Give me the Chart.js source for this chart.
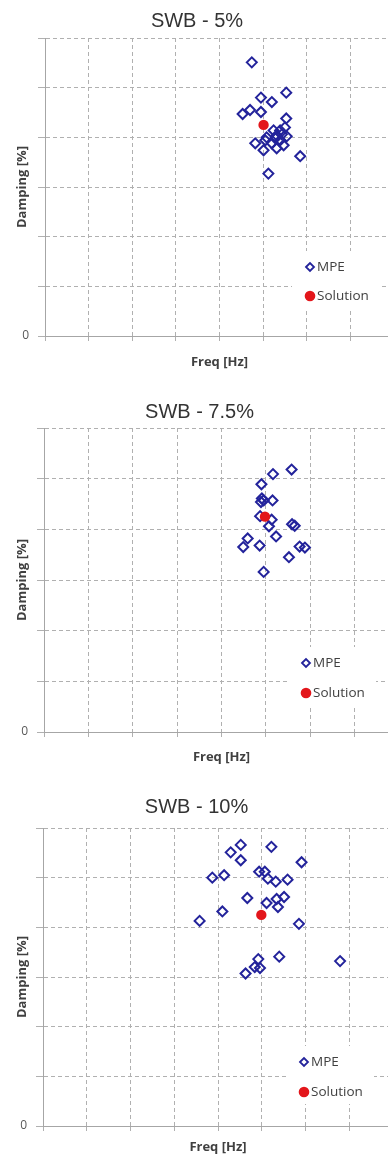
<!DOCTYPE html>
<html><head><meta charset="utf-8">
<script src="https://cdn.jsdelivr.net/npm/chart.js@4.4.1/dist/chart.umd.min.js"></script>
<style>
html,body{margin:0;padding:0;background:#fff;width:388px;height:1156px;overflow:hidden;}
.wrap{position:absolute;left:0;}
canvas{display:block;}
</style></head><body>
<div class="wrap" style="top:0px"><canvas id="c1" width="440" height="375" style="width:440px;height:375px"></canvas></div>
<div class="wrap" style="top:390px"><canvas id="c2" width="434" height="380" style="width:434px;height:380px"></canvas></div>
<div class="wrap" style="top:786px"><canvas id="c3" width="445" height="370" style="width:445px;height:370px"></canvas></div>
<script>
// ---- data ----
const chartTitles = ['SWB - 5%', 'SWB - 7.5%', 'SWB - 10%'];
const seriesNames = ['MPE', 'Solution'];
const xTitle = 'Freq [Hz]';
const yTitle = 'Damping [%]';
const yTickLabels = ['0'];

const freq5 = [4.74,5.53,4.95,5.20,4.95,4.70,4.53,5.53,5.50,5.24,5.39,5.08,5.31,5.54,5.20,5.39,5.47,5.31,5.05,4.82,5.01,5.85,5.12,5.28,5.43];
const damp5 = [5.51,4.90,4.80,4.71,4.51,4.55,4.47,4.38,4.20,4.14,4.14,4.00,4.04,4.02,3.88,3.94,3.84,3.78,3.94,3.88,3.74,3.62,3.27,3.98,4.06];
const solFreq5 = [5.01];
const solDamp5 = [4.25];

const freq75 = [5.58,5.16,4.90,4.91,4.95,4.89,5.15,4.87,5.13,5.07,5.59,5.65,5.23,4.59,4.49,4.86,5.76,5.88,5.52,4.95];
const damp75 = [5.18,5.09,4.89,4.61,4.57,4.54,4.57,4.26,4.19,4.06,4.10,4.07,3.86,3.82,3.65,3.68,3.66,3.64,3.45,3.16];
const solFreq75 = [4.98];
const solDamp75 = [4.25];

const freq10 = [4.52,4.29,5.22,4.52,5.91,3.87,4.14,4.94,5.07,5.14,5.32,5.59,4.67,5.11,5.34,5.51,5.37,4.10,3.58,5.85,4.92,4.84,4.96,4.63,5.40,6.79];
const damp10 = [5.66,5.51,5.62,5.35,5.31,5.00,5.05,5.12,5.12,4.98,4.92,4.96,4.59,4.49,4.57,4.61,4.41,4.32,4.13,4.07,3.36,3.20,3.18,3.07,3.41,3.32];
const solFreq10 = [4.99];
const solDamp10 = [4.25];

// ---- styling / layout ----
const GRID = '#b0b0b0';
const AXIS = '#a6a6a6';
const MPE_COLOR = '#23239b';
const SOL_COLOR = '#e3161b';

const insideLegend = {
  id: 'insideLegend',
  afterDatasetsDraw(chart, args, opts) {
    const {ctx, chartArea: a} = chart;
    const mx = a.left + opts.dx;
    const rows = [a.bottom - opts.dy1, a.bottom - opts.dy2];
    ctx.save();
    ctx.fillStyle = '#fff';
    ctx.fillRect(mx - 18, rows[0] - 16, 88, rows[1] - rows[0] + 28);
    chart.data.datasets.forEach((ds, i) => {
      const y = rows[i];
      ctx.beginPath();
      if (ds.pointStyle === 'rectRot') {
        const r = 4;
        ctx.moveTo(mx - r, y); ctx.lineTo(mx, y - r); ctx.lineTo(mx + r, y); ctx.lineTo(mx, y + r); ctx.closePath();
        ctx.lineWidth = 1.8; ctx.strokeStyle = ds.pointBorderColor; ctx.stroke();
      } else {
        ctx.arc(mx, y, 5.3, 0, Math.PI * 2);
        ctx.fillStyle = ds.pointBackgroundColor; ctx.fill();
      }
      ctx.fillStyle = '#404040';
      ctx.font = '13.5px "Open Sans"';
      ctx.textBaseline = 'middle';
      ctx.textAlign = 'left';
      ctx.fillText(ds.label, mx + 7, y + 0.5);
    });
    ctx.restore();
  }
};

function makeChart(id, title, fx, dy, sx, sy, L) {
  const mpe = fx.map((x, i) => ({x, y: dy[i]}));
  const sol = sx.map((x, i) => ({x, y: sy[i]}));
  return new Chart(document.getElementById(id), {
    type: 'scatter',
    data: {
      datasets: [
        {label: seriesNames[0], data: mpe, pointStyle: 'rectRot', pointRadius: 5,
         pointBorderWidth: 2, pointBorderColor: MPE_COLOR, pointBackgroundColor: 'rgba(255,255,255,0)',
         borderColor: MPE_COLOR, backgroundColor: 'rgba(255,255,255,0)', order: 1},
        {label: seriesNames[1], data: sol, pointStyle: 'circle', pointRadius: 5.2,
         pointBorderWidth: 0, pointBorderColor: SOL_COLOR, pointBackgroundColor: SOL_COLOR,
         borderColor: SOL_COLOR, backgroundColor: SOL_COLOR, order: 0}
      ]
    },
    options: {
      responsive: false,
      animation: false,
      events: [],
      layout: {padding: {left: 0, right: L.padR, top: 0, bottom: 0}},
      plugins: {
        legend: {display: false},
        tooltip: {enabled: false},
        title: {display: true, text: title, color: '#333',
                font: {family: '"Liberation Sans"', size: 20, weight: 'normal', lineHeight: 1.2},
                padding: {top: L.tTop, bottom: L.tBot}},
        insideLegend: {dx: L.legDx, dy1: L.legDy1, dy2: L.legDy2}
      },
      scales: {
        x: {
          type: 'linear', min: 0, max: 8,
          ticks: {stepSize: 1, display: false},
          grid: {color: GRID, lineWidth: 1, tickLength: 5, tickColor: GRID},
          border: {display: true, color: AXIS, width: 1, dash: [4, 3]},
          title: {display: true, text: xTitle, color: '#404040',
                  font: {family: '"Open Sans"', size: 13, weight: 'bold', lineHeight: 1.2},
                  padding: {top: 0, bottom: L.xtPad}},
          afterFit: s => { s.height = L.xH; }
        },
        y: {
          type: 'linear', min: 0, max: 6,
          ticks: {stepSize: 1, padding: 9, color: '#595959',
                  font: {family: '"Open Sans"', size: 12},
                  callback: v => (v === 0 ? yTickLabels[0] : '')},
          grid: {color: GRID, lineWidth: 1, tickLength: 7, tickColor: GRID},
          border: {display: true, color: AXIS, width: 1, dash: [4, 3]},
          title: {display: true, text: yTitle, color: '#404040',
                  font: {family: '"Open Sans"', size: 13, weight: 'bold', lineHeight: 1.2},
                  padding: {top: 14, bottom: 0}},
          afterFit: s => { s.width = L.yW; }
        }
      }
    },
    plugins: [insideLegend]
  });
}

makeChart('c1', chartTitles[0], freq5, damp5, solFreq5, solDamp5,
  {padR: 46, tTop: 9, tBot: 5, xH: 39, xtPad: 5.2, yW: 45, legDx: 265, legDy1: 69, legDy2: 40});
makeChart('c2', chartTitles[1], freq75, damp75, solFreq75, solDamp75,
  {padR: 35, tTop: 10, tBot: 4, xH: 38, xtPad: 5.2, yW: 44, legDx: 262, legDy1: 69, legDy2: 39});
makeChart('c3', chartTitles[2], freq10, damp10, solFreq10, solDamp10,
  {padR: 52, tTop: 9, tBot: 9, xH: 30, xtPad: 1.2, yW: 43, legDx: 261, legDy1: 64, legDy2: 34});
</script>
</body></html>
